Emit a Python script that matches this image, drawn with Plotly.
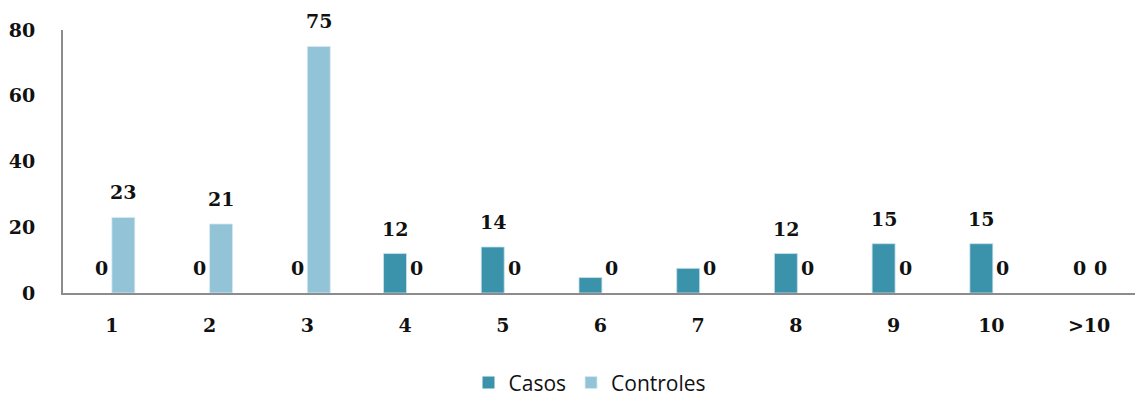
import plotly.graph_objects as go

# Categories and series values
categories = ["1", "2", "3", "4", "5", "6", "7", "8", "9", "10", ">10"]
casos = [0, 0, 0, 12, 14, 4.7, 7.5, 12, 15, 15, 0]
controles = [23, 21, 75, 0, 0, 0, 0, 0, 0, 0, 0]
# Data labels (None where no label is shown)
casos_labels = ["0", "0", "0", "12", "14", None, None, "12", "15", "15", "0"]
controles_labels = ["23", "21", "75", "0", "0", "0", "0", "0", "0", "0", "0"]
y_ticks = [0, 20, 40, 60, 80]

CASOS_COLOR = "#3b93ab"
CONTROLES_COLOR = "#93c3d7"
NUM_FONT = dict(family="DejaVu Serif", size=19, color="#111111", weight="bold")

BAR_W = 0.235
x_idx = list(range(len(categories)))


def edge(values, color):
    # soft light edge only on non-empty bars
    return [1 if v > 0 else 0 for v in values], color


fig = go.Figure()
w_c, col_c = edge(casos, "rgba(200,225,235,0.8)")
fig.add_trace(go.Bar(
    name="Casos", x=x_idx, y=casos,
    width=BAR_W, offset=-0.22,
    marker=dict(color=CASOS_COLOR, line=dict(color=col_c, width=w_c)),
))
w_k, col_k = edge(controles, "rgba(215,235,242,0.8)")
fig.add_trace(go.Bar(
    name="Controles", x=x_idx, y=controles,
    width=BAR_W, offset=0.0,
    marker=dict(color=CONTROLES_COLOR, line=dict(color=col_k, width=w_k)),
))

# Value labels above each bar
for i, (v, t) in enumerate(zip(casos, casos_labels)):
    if t is not None:
        fig.add_annotation(x=i - 0.22 + BAR_W / 2, y=v, text=t, showarrow=False,
                           yanchor="bottom", yshift=12, font=NUM_FONT)
for i, (v, t) in enumerate(zip(controles, controles_labels)):
    if t is not None:
        fig.add_annotation(x=i + BAR_W / 2, y=v, text=t, showarrow=False,
                           yanchor="bottom", yshift=12, font=NUM_FONT)

fig.update_layout(
    width=1135, height=396,
    margin=dict(l=63, r=0, t=30, b=103, autoexpand=False),
    paper_bgcolor="white", plot_bgcolor="white",
    barmode="overlay",
    showlegend=True,
    legend=dict(orientation="h", x=0.4916, y=0.033, yref="container",
                xanchor="center", yanchor="middle",
                font=dict(family="Open Sans", size=21, color="#111111"),
                itemwidth=30, tracegroupgap=0),
    xaxis=dict(
        tickmode="array", tickvals=x_idx, ticktext=categories,
        range=[-0.5, 10.47], showgrid=False, zeroline=False,
        showline=True, linecolor="#8c8c8c", linewidth=2,
        ticks="", tickfont=NUM_FONT, ticklabelstandoff=14,
    ),
    yaxis=dict(
        range=[0, 80], tickvals=y_ticks, showgrid=False, zeroline=False,
        showline=True, linecolor="#8c8c8c", linewidth=2,
        ticks="", tickfont=NUM_FONT, ticklabelstandoff=22,
    ),
)

fig.write_html("out.html")
